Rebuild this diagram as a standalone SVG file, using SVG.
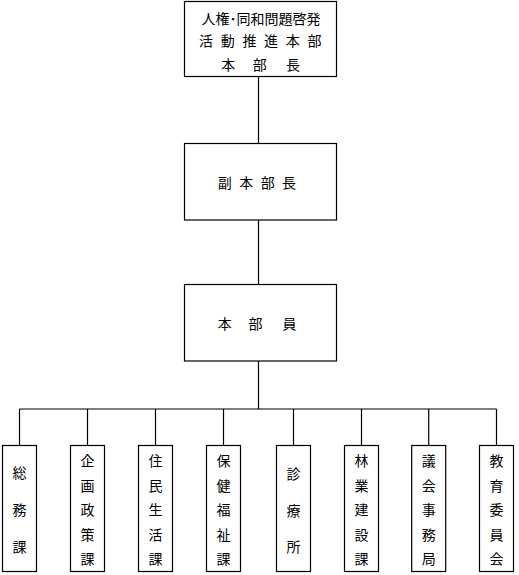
<svg xmlns="http://www.w3.org/2000/svg" width="519" height="575" viewBox="0 0 519 575">
<style>
rect{fill:#fff;stroke:#000;stroke-width:1.2}
line{stroke:#000;stroke-width:1.2}
text{font-family:"Noto Sans CJK JP","Noto Sans CJK SC",sans-serif;font-size:14px;fill:#000;text-anchor:middle;dominant-baseline:central}
</style>
<rect x="0" y="0" width="519" height="575" style="stroke:none"/>
<g id="connectors">
<line x1="258.5" y1="77" x2="258.5" y2="143.5"/>
<line x1="258.5" y1="220" x2="258.5" y2="284.5"/>
<line x1="258.5" y1="361" x2="258.5" y2="409"/>
<line x1="19.5" y1="409" x2="496.5" y2="409"/>
<line x1="19.5" y1="409" x2="19.5" y2="445.5"/>
<line x1="87.5" y1="409" x2="87.5" y2="445.5"/>
<line x1="155.5" y1="409" x2="155.5" y2="445.5"/>
<line x1="223.5" y1="409" x2="223.5" y2="445.5"/>
<line x1="293.5" y1="409" x2="293.5" y2="445.5"/>
<line x1="361.5" y1="409" x2="361.5" y2="445.5"/>
<line x1="428.7" y1="409" x2="428.7" y2="445.5"/>
<line x1="496.5" y1="409" x2="496.5" y2="445.5"/>
</g>
<g id="head">
<rect x="184.5" y="1.5" width="152" height="75"/>
<text x="261" y="17.5">人権･同和問題啓発</text>
<text x="206 227.7 249.4 271.1 292.8 314.5" y="40">活動推進本部</text>
<text x="228.3 259.7 293" y="63.5">本部長</text>
</g>
<g id="vice">
<rect x="184.5" y="143.5" width="152" height="76.5"/>
<text x="224.7 246.2 267.7 289" y="182">副本部長</text>
</g>
<g id="members">
<rect x="184.5" y="284.5" width="152" height="76.5"/>
<text x="224.7 255.5 289.5" y="323">本部員</text>
</g>
<g id="d1">
<rect x="2.5" y="445.5" width="34" height="126"/>
<text x="19.5 19.5 19.5" y="472 509 546">総務課</text>
</g>
<g id="d2">
<rect x="70.5" y="445.5" width="34" height="126"/>
<text x="87.5 87.5 87.5 87.5 87.5" y="460 484.5 509 533.5 558">企画政策課</text>
</g>
<g id="d3">
<rect x="138.5" y="445.5" width="34" height="126"/>
<text x="155.5 155.5 155.5 155.5 155.5" y="460 484.5 509 533.5 558">住民生活課</text>
</g>
<g id="d4">
<rect x="206.5" y="445.5" width="34" height="126"/>
<text x="223.5 223.5 223.5 223.5 223.5" y="460 484.5 509 533.5 558">保健福祉課</text>
</g>
<g id="d5">
<rect x="276.5" y="445.5" width="34" height="126"/>
<text x="293.5 293.5 293.5" y="473 509.5 546">診療所</text>
</g>
<g id="d6">
<rect x="344.5" y="445.5" width="34" height="126"/>
<text x="361.5 361.5 361.5 361.5 361.5" y="460 484.5 509 533.5 558">林業建設課</text>
</g>
<g id="d7">
<rect x="411.7" y="445.5" width="34" height="126"/>
<text x="428.7 428.7 428.7 428.7 428.7" y="460 484.5 509 533.5 558">議会事務局</text>
</g>
<g id="d8">
<rect x="479.5" y="445.5" width="34" height="126"/>
<text x="496.5 496.5 496.5 496.5 496.5" y="460 484.5 509 533.5 558">教育委員会</text>
</g>
</svg>
